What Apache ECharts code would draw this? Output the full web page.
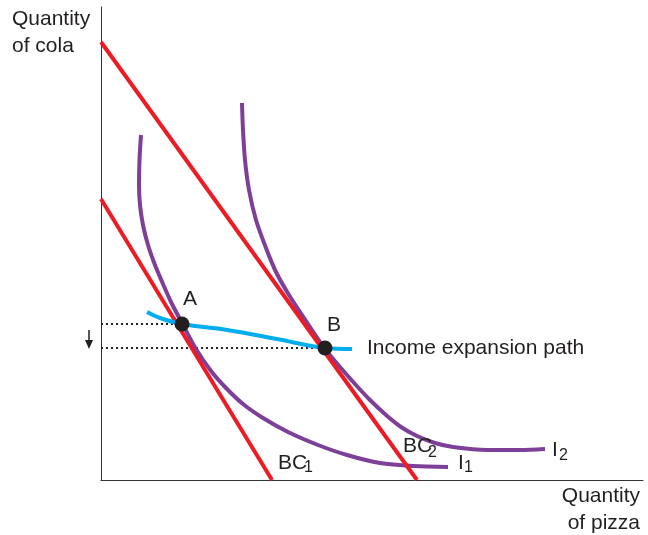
<!DOCTYPE html>
<html>
<head>
<meta charset="utf-8">
<style>html,body{margin:0;padding:0;background:#fff;}#c{width:648px;height:535px;}</style>
<script src="https://cdn.jsdelivr.net/npm/echarts@6/dist/echarts.min.js"></script>
</head>
<body>
<div id="c"></div>
<script>
// Data (axis units: arbitrary quantity units)
const bc1 = [[0, 281], [171, 0]];
const bc2 = [[0, 438], [316, 0]];
const i1 = [[40,345],[38.5,320],[38,295],[39,275],[42,255],[47,235],[54,215],[62,196],[70,178],[81,157],[95,131],[110,109],[125,92],[142,76],[162,62],[187,48],[217,35],[246,25],[279,17],[312,14],[347,13]];
const i2 = [[141,377],[142,350],[144,320],[148,290],[155,260],[165,232],[175,208],[188,185],[205,159],[224,131],[239,113],[254,96],[269,80],[285,65],[300,53],[316,44],[334,37],[352,33],[386,30],[419,30],[444,31]];
const expansionPath = [[46,168],[59,162],[81,156],[126,150],[176,141],[224,132],[251,131]];
const pointA = [81, 156];
const pointB = [224, 132];
const arrow = [[-12, 150], [-12, 131]];

const RED = '#ED1C24', PURPLE = '#7D3F98', CYAN = '#00AEEF', INK = '#231F20';
const FONT = 'Liberation Sans, Arial, Helvetica, sans-serif';

const chart = echarts.init(document.getElementById('c'), null, {renderer: 'canvas'});

function txt(text, x, y, size, align) {
  return {type: 'text', style: {text: text, x: x, y: y, fill: INK, font: size + 'px ' + FONT, align: align || 'left', verticalAlign: 'middle'}, z: 100};
}

const option = {
  animation: false,
  grid: {left: 101, right: 5, top: 7, bottom: 55},
  xAxis: {type: 'value', min: 0, max: 542, axisLine: {show: true, lineStyle: {color: '#333', width: 1}}, axisTick: {show: false}, axisLabel: {show: false}, splitLine: {show: false}},
  yAxis: {type: 'value', min: 0, max: 473, axisLine: {show: true, lineStyle: {color: '#333', width: 1}}, axisTick: {show: false}, axisLabel: {show: false}, splitLine: {show: false}},
  series: [
    {type: 'line', data: [[0, pointA[1]], pointA], showSymbol: false, lineStyle: {color: INK, width: 2, type: [2, 3]}, z: 1, silent: true},
    {type: 'line', data: [[0, pointB[1]], pointB], showSymbol: false, lineStyle: {color: INK, width: 2, type: [2, 3]}, z: 1, silent: true},
    {type: 'line', data: bc1, showSymbol: false, lineStyle: {color: RED, width: 4}, z: 3},
    {type: 'line', data: bc2, showSymbol: false, lineStyle: {color: RED, width: 4}, z: 3},
    {type: 'line', data: i1, smooth: 0.3, showSymbol: false, lineStyle: {color: PURPLE, width: 4}, z: 2},
    {type: 'line', data: i2, smooth: 0.3, showSymbol: false, lineStyle: {color: PURPLE, width: 4}, z: 2},
    {type: 'line', data: expansionPath, smooth: 0.4, showSymbol: false, lineStyle: {color: CYAN, width: 4}, z: 4},
    {type: 'scatter', data: [pointA, pointB], symbolSize: 15, itemStyle: {color: INK, opacity: 1}, z: 5}
  ]
};
chart.setOption(option);

// Downward arrow beside the y-axis, placed through the chart's own coordinate conversion
const p0 = chart.convertToPixel({gridIndex: 0}, arrow[0]);
const p1 = chart.convertToPixel({gridIndex: 0}, arrow[1]);
chart.setOption({graphic: [
  txt('Quantity', 12, 19, 21),
  txt('of cola', 12, 46, 21),
  txt('Quantity', 640, 496, 21, 'right'),
  txt('of pizza', 640, 523, 21, 'right'),
  txt('Income expansion path', 367, 348, 21),
  txt('A', 190, 299, 21, 'center'),
  txt('B', 334, 325, 21, 'center'),
  txt('BC', 278, 463, 21),
  txt('1', 304, 468, 16),
  txt('BC', 403, 446, 21),
  txt('2', 428, 453, 16),
  txt('I', 458, 463, 21),
  txt('1', 464, 468, 16),
  txt('I', 552, 450, 21),
  txt('2', 559, 456, 16),
  {type: 'line', shape: {x1: p0[0], y1: p0[1], x2: p1[0], y2: p1[1] - 6}, style: {stroke: INK, lineWidth: 1.5}, z: 100},
  {type: 'polygon', shape: {points: [[p1[0] - 4, p1[1] - 9], [p1[0] + 4, p1[1] - 9], [p1[0], p1[1]]]}, style: {fill: INK}, z: 100}
]});
</script>
</body>
</html>
